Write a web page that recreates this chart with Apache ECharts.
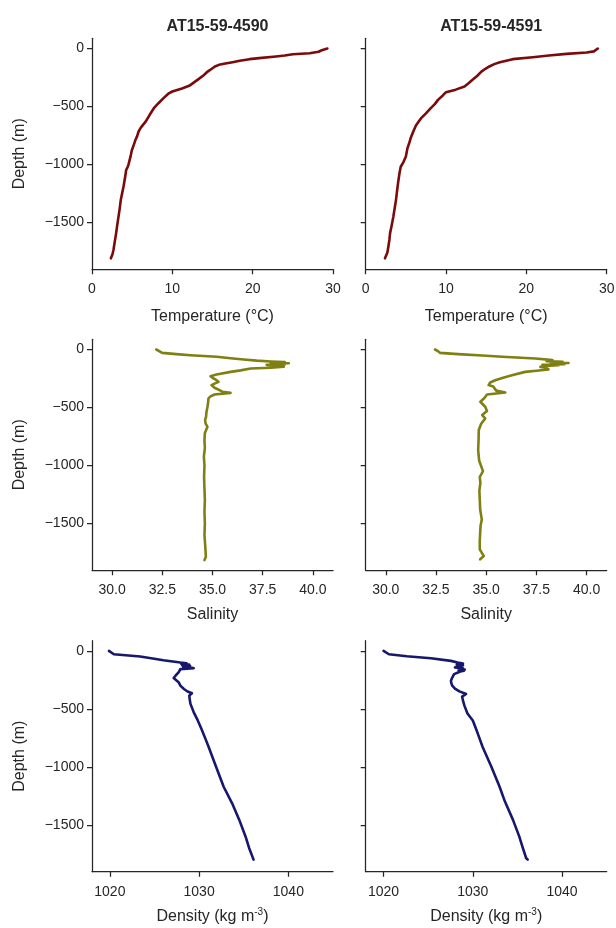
<!DOCTYPE html>
<html>
<head>
<meta charset="utf-8">
<script src="https://cdn.jsdelivr.net/npm/echarts@6/dist/echarts.min.js"></script>
<style>
  html, body { margin: 0; padding: 0; background: #ffffff; }
  #chart { width: 616px; height: 928px; }
</style>
</head>
<body>
<div id="chart"></div>
<script>
// CTD casts: station names
const stations = ['AT15-59-4590', 'AT15-59-4591'];

// Depth ticks shared by all panels (m)
const depthTicks = [0, -500, -1000, -1500];
const tempTicks = [0, 10, 20, 30];
const salinityTicks = [30, 32.5, 35, 37.5, 40];
const densityTicks = [1020, 1030, 1040];

// Temperature profiles (°C)
const depthT4590 = [0, -6, -15, -28, -41, -50, -60, -69, -83, -92, -105, -118, -130, -141, -155, -170, -185, -199, -230, -262, -292, -322, -345, -360, -371, -390, -422, -470, -515, -570, -629, -680, -716, -760, -790, -831, -880, -931, -1000, -1020, -1049, -1120, -1193, -1250, -1308, -1380, -1451, -1520, -1595, -1660, -1739, -1775, -1810];
const temp4590 = [29.3, 29.2, 28.6, 28.2, 27.1, 25.0, 24.0, 22.9, 20.8, 19.6, 18.4, 17.5, 16.6, 15.8, 15.3, 15.0, 14.7, 14.4, 13.9, 13.3, 12.7, 12.1, 11.2, 10.5, 10.0, 9.5, 9.0, 8.3, 7.7, 7.2, 6.7, 6.1, 5.8, 5.6, 5.4, 5.2, 4.95, 4.8, 4.55, 4.45, 4.25, 4.1, 3.92, 3.75, 3.58, 3.45, 3.3, 3.15, 3.0, 2.85, 2.67, 2.55, 2.35];

const depthT4591 = [0, -10, -25, -35, -46, -60, -75, -92, -105, -118, -135, -155, -175, -199, -235, -270, -300, -328, -355, -377, -405, -443, -480, -515, -560, -601, -630, -664, -720, -773, -820, -859, -931, -980, -1020, -1078, -1150, -1230, -1308, -1380, -1451, -1520, -1595, -1650, -1710, -1760, -1810];
const temp4591 = [28.9, 28.7, 28.4, 27.5, 25.0, 22.8, 20.8, 18.3, 17.5, 16.7, 16.0, 15.4, 14.9, 14.4, 13.9, 13.3, 12.8, 12.3, 11.2, 10.0, 9.6, 9.0, 8.6, 8.1, 7.5, 6.9, 6.6, 6.25, 5.9, 5.6, 5.4, 5.2, 5.0, 4.7, 4.36, 4.2, 4.05, 3.9, 3.77, 3.6, 3.44, 3.25, 3.03, 2.95, 2.82, 2.7, 2.4];

// Salinity profiles
const depthS4590 = [0, -6, -15, -29, -40, -49, -63, -75, -86, -96, -103, -108, -113, -118, -123, -128, -133, -138, -143, -148, -153, -158, -164, -180, -193, -216, -230, -250, -265, -279, -295, -307, -330, -351, -365, -374, -388, -405, -422, -460, -494, -540, -580, -609, -640, -667, -720, -782, -850, -925, -1000, -1100, -1200, -1300, -1400, -1500, -1600, -1700, -1788, -1817];
const sal4590 = [32.2, 32.2, 32.35, 32.5, 33.2, 33.9, 35.2, 35.9, 36.55, 37.2, 37.9, 38.6, 37.9, 38.8, 38.0, 38.6, 37.7, 38.4, 37.8, 38.55, 38.6, 37.9, 36.9, 36.4, 35.9, 35.2, 34.9, 35.05, 35.2, 35.3, 35.1, 34.95, 35.1, 35.35, 35.5, 35.9, 35.1, 34.9, 34.8, 34.78, 34.75, 34.7, 34.68, 34.63, 34.66, 34.75, 34.62, 34.6, 34.62, 34.57, 34.6, 34.58, 34.6, 34.62, 34.6, 34.62, 34.6, 34.64, 34.67, 34.6];

const depthS4591 = [0, -5, -15, -29, -40, -52, -63, -78, -92, -100, -106, -111, -116, -121, -126, -131, -136, -142, -150, -160, -172, -183, -193, -222, -245, -265, -285, -307, -320, -336, -355, -371, -388, -420, -451, -494, -530, -566, -595, -640, -695, -780, -868, -960, -1049, -1100, -1150, -1220, -1293, -1380, -1466, -1520, -1580, -1650, -1724, -1782, -1810];
const sal4591 = [32.45, 32.5, 32.6, 32.7, 33.6, 34.8, 35.8, 37.45, 38.3, 38.0, 38.8, 38.2, 39.1, 38.4, 38.9, 37.8, 38.6, 37.9, 37.7, 38.0, 38.1, 37.5, 36.94, 36.28, 35.8, 35.45, 35.2, 35.12, 35.35, 35.29, 35.5, 35.95, 35.04, 34.9, 34.71, 34.95, 35.04, 34.8, 34.95, 34.75, 34.63, 34.62, 34.6, 34.65, 34.84, 34.68, 34.71, 34.66, 34.68, 34.7, 34.78, 34.72, 34.7, 34.68, 34.68, 34.88, 34.7];

// Density profiles (kg m^-3)
const depthD4590 = [0, -10, -29, -49, -65, -80, -100, -106, -112, -118, -124, -130, -136, -142, -149, -157, -170, -186, -210, -234, -250, -270, -300, -329, -350, -366, -386, -420, -457, -530, -600, -680, -757, -829, -1000, -1172, -1315, -1458, -1601, -1700, -1801];
const dens4590 = [1019.9, 1020.1, 1020.45, 1023.4, 1024.8, 1026.0, 1027.9, 1028.6, 1028.0, 1028.9, 1028.1, 1029.0, 1028.2, 1028.7, 1029.4, 1027.9, 1028.0, 1027.7, 1027.4, 1027.15, 1027.3, 1027.7, 1027.9, 1028.3, 1028.7, 1029.2, 1028.9, 1028.95, 1029.03, 1029.4, 1029.85, 1030.3, 1030.7, 1031.07, 1031.9, 1032.75, 1033.7, 1034.5, 1035.2, 1035.6, 1036.1];

const depthD4591 = [0, -10, -29, -46, -63, -86, -100, -109, -117, -125, -133, -143, -150, -155, -161, -166, -172, -178, -186, -200, -230, -257, -280, -300, -325, -349, -372, -394, -430, -472, -540, -600, -680, -757, -829, -1000, -1172, -1300, -1458, -1600, -1700, -1787, -1801];
const dens4591 = [1020.0, 1020.2, 1020.6, 1022.6, 1025.3, 1027.55, 1028.3, 1028.9, 1028.2, 1028.9, 1028.3, 1028.0, 1028.9, 1028.5, 1029.1, 1028.4, 1029.0, 1028.6, 1028.4, 1027.9, 1027.7, 1027.55, 1027.6, 1027.7, 1028.0, 1028.5, 1029.25, 1028.8, 1028.9, 1029.06, 1029.4, 1030.0, 1030.4, 1030.76, 1031.1, 1032.08, 1033.0, 1033.6, 1034.5, 1035.2, 1035.6, 1035.97, 1036.15];

// ---- layout / styling ----
const INK = '#262626';
const FONT = '"Liberation Sans", Arial, Helvetica, sans-serif';
const colLeft = [92, 365.7];
const rowTop = [38.3, 339.3, 640.7];
const plotW = 241, plotH = 231;
const depthRange = [-1905, 88];

const rows = [
  { name: 'Temperature (°C)', range: [0, 30], ticks: tempTicks, fmt: v => String(v), color: '#7b0a0a', gap: 39,
    data: [[temp4590, depthT4590], [temp4591, depthT4591]] },
  { name: 'Salinity', range: [29, 41], ticks: salinityTicks, fmt: v => v.toFixed(1), color: '#7f7f12', gap: 36,
    data: [[sal4590, depthS4590], [sal4591, depthS4591]] },
  { name: 'Density (kg m{sup|-3})', range: [1018, 1045], ticks: densityTicks, fmt: v => String(v), color: '#17176c', gap: 36,
    data: [[dens4590, depthD4590], [dens4591, depthD4591]] }
];

const minus = v => String(v).replace('-', '\u2212');

const grid = [], xAxis = [], yAxis = [], series = [];
rows.forEach((row, r) => {
  [0, 1].forEach(c => {
    const idx = grid.length;
    grid.push({ left: colLeft[c], top: rowTop[r], width: plotW, height: plotH, outerBoundsMode: 'none', containLabel: false });
    xAxis.push({
      type: 'value', gridIndex: idx, min: row.range[0], max: row.range[1],
      name: row.name, nameLocation: 'middle', nameGap: row.gap,
      nameTextStyle: { fontSize: 16, color: INK, fontFamily: FONT,
        rich: { sup: { fontSize: 10, color: INK, fontFamily: FONT, verticalAlign: 'top', padding: [0, 0, 8, 0] } } },
      axisLine: { show: true, onZero: false, lineStyle: { color: INK, width: 1.25 } },
      axisTick: { show: true, length: 5, customValues: row.ticks, lineStyle: { color: INK, width: 1.25 } },
      axisLabel: { customValues: row.ticks, formatter: row.fmt, fontSize: 14, color: INK, fontFamily: FONT, margin: 13 },
      splitLine: { show: false }
    });
    yAxis.push({
      type: 'value', gridIndex: idx, min: depthRange[0], max: depthRange[1],
      name: c === 0 ? 'Depth (m)' : '', nameLocation: 'middle', nameGap: 64, nameRotate: 90,
      nameTextStyle: { fontSize: 16, color: INK, fontFamily: FONT },
      axisLine: { show: true, onZero: false, lineStyle: { color: INK, width: 1.25 } },
      axisTick: { show: true, length: 5, customValues: depthTicks, lineStyle: { color: INK, width: 1.25 } },
      axisLabel: { show: c === 0, customValues: depthTicks, formatter: minus, fontSize: 14, color: INK, fontFamily: FONT, margin: 8 },
      splitLine: { show: false }
    });
    const [vals, depths] = row.data[c];
    series.push({
      type: 'line', xAxisIndex: idx, yAxisIndex: idx, showSymbol: false, silent: true, animation: false,
      lineStyle: { color: row.color, width: 2.6, join: 'round', cap: 'round' },
      data: vals.map((v, i) => [v, depths[i]])
    });
  });
});

const title = stations.map((s, c) => ({
  text: s, left: colLeft[c] + plotW / 2, top: 14, textAlign: 'center',
  textStyle: { fontSize: 16, fontWeight: 'bold', color: INK, fontFamily: FONT }
}));

const chart = echarts.init(document.getElementById('chart'), null, { renderer: 'canvas' });
chart.setOption({ backgroundColor: '#ffffff', animation: false, title, grid, xAxis, yAxis, series });
</script>
</body>
</html>
